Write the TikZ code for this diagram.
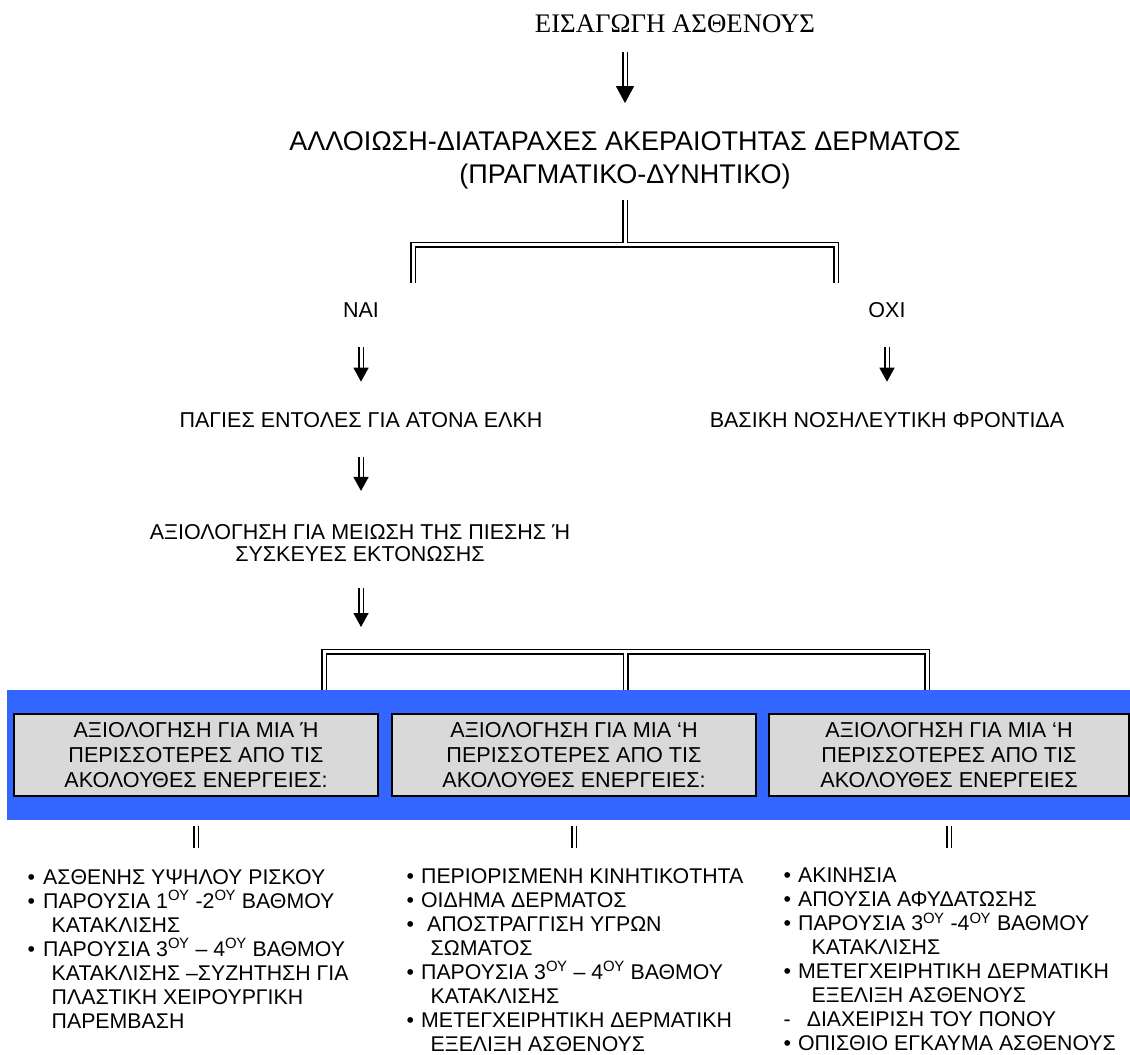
\documentclass[tikz,border=0pt]{standalone}
\usepackage{fontspec}
\setmainfont{Liberation Sans}
\newfontfamily\timesgr{Liberation Serif}
\usetikzlibrary{arrows.meta}

\definecolor{bandblue}{HTML}{3366FF}
\definecolor{boxgray}{HTML}{D9D9D9}

\newcommand{\oy}{\textsuperscript{ΟΥ}}
\newcommand{\listbul}[1][8pt]{\textbullet\hspace{#1}}
\newcommand{\listcont}[1][24pt]{\hspace*{#1}}

\begin{document}
\begin{tikzpicture}[x=1pt, y=-1pt,
        every node/.style={inner sep=0pt},
        dbl/.style={double, double distance=3pt, line width=1.5pt},
        arr/.style={dbl, -{Triangle[width=15pt, length=14pt, sep=5pt]}},
        txt/.style={font=\fontsize{21.5}{22.5}\selectfont, align=center},
        big/.style={font=\fontsize{27}{33}\selectfont, align=center},
        evalbox/.style={txt, font=\fontsize{21.6}{25}\selectfont, draw, line width=2pt,
            fill=boxgray, minimum height=82pt},
        items/.style={font=\fontsize{21.3}{24}\selectfont, align=left, anchor=north west}]
    \useasboundingbox (0, 0) rectangle (1130, 1055);

    % top of the chart
    \node[font=\timesgr\fontsize{26.8}{30}\selectfont] (entry) at (675, 24) {ΕΙΣΑΓΩΓΗ ΑΣΘΕΝΟΥΣ};
    \node[big] (skin) at (625, 160) {ΑΛΛΟΙΩΣΗ-ΔΙΑΤΑΡΑΧΕΣ ΑΚΕΡΑΙΟΤΗΤΑΣ ΔΕΡΜΑΤΟΣ\\(ΠΡΑΓΜΑΤΙΚΟ-ΔΥΝΗΤΙΚΟ)};
    \draw[dbl, -{Triangle[width=18pt, length=17pt]}, shorten <=19pt, shorten >=28pt]
        (skin.north |- entry.south) -- (skin.north);

    % yes / no
    \node[txt] (yes) at (361, 310.5) {ΝΑΙ};
    \node[txt] (no) at (887, 310.5) {ΟΧΙ};
    \coordinate (fork) at (625, 244.5);
    \coordinate (yesleg) at (413, 283);
    \coordinate (noleg) at (836, 283);
    \draw[dbl] (yesleg) |- (fork) -| (noleg);
    \draw[dbl, shorten <=11pt, shorten >=1.5pt] (skin) -- (fork);

    \node[txt] (orders) at (361, 420.5) {ΠΑΓΙΕΣ ΕΝΤΟΛΕΣ ΓΙΑ ΑΤΟΝΑ ΕΛΚΗ};
    \node[txt] (basic) at (887, 420.5) {ΒΑΣΙΚΗ ΝΟΣΗΛΕΥΤΙΚΗ ΦΡΟΝΤΙΔΑ};
    \draw[arr, shorten <=29pt, shorten >=26pt] (yes) -- (orders);
    \draw[arr, shorten <=29pt, shorten >=26pt] (no) -- (basic);

    \node[txt] (assess) at (360, 543) {ΑΞΙΟΛΟΓΗΣΗ ΓΙΑ ΜΕΙΩΣΗ ΤΗΣ ΠΙΕΣΗΣ Ή\\ΣΥΣΚΕΥΕΣ ΕΚΤΟΝΩΣΗΣ};
    \draw[arr, shorten <=29pt, shorten >=28pt] (orders) -- (assess.north -| orders);
    \coordinate (assesstip) at (361, 632);
    \draw[arr, shorten <=26pt] (assess.south -| assesstip) -- (assesstip);

    % blue band with the three boxes
    \fill[bandblue] (7, 690) rectangle (1130, 820);
    \coordinate (bar) at (625.5, 651.5);
    \coordinate (bl) at (324, 690);
    \coordinate (bm) at (625.5, 690);
    \coordinate (br) at (927, 690);
    \draw[dbl] (bl) |- (bar) -| (br);
    \draw[dbl, shorten <=1.5pt] (bar) -- (bm);

    \node[evalbox, minimum width=364pt] (eval1) at (196, 755)
        {ΑΞΙΟΛΟΓΗΣΗ ΓΙΑ ΜΙΑ Ή\\ΠΕΡΙΣΣΟΤΕΡΕΣ ΑΠΟ ΤΙΣ\\ΑΚΟΛΟΥΘΕΣ ΕΝΕΡΓΕΙΕΣ:};
    \node[evalbox, minimum width=364pt] (eval2) at (574, 755)
        {ΑΞΙΟΛΟΓΗΣΗ ΓΙΑ ΜΙΑ ‘Η\\ΠΕΡΙΣΣΟΤΕΡΕΣ ΑΠΟ ΤΙΣ\\ΑΚΟΛΟΥΘΕΣ ΕΝΕΡΓΕΙΕΣ:};
    \node[evalbox, minimum width=360pt] (eval3) at (949, 755)
        {ΑΞΙΟΛΟΓΗΣΗ ΓΙΑ ΜΙΑ ‘Η\\ΠΕΡΙΣΣΟΤΕΡΕΣ ΑΠΟ ΤΙΣ\\ΑΚΟΛΟΥΘΕΣ ΕΝΕΡΓΕΙΕΣ};

    % lists
    \node[items] (list1) at (27.5, 869) {%
        \listbul ΑΣΘΕΝΗΣ ΥΨΗΛΟΥ ΡΙΣΚΟΥ\\
        \listbul ΠΑΡΟΥΣΙΑ 1\oy{} -2\oy{} ΒΑΘΜΟΥ\\
        \listcont ΚΑΤΑΚΛΙΣΗΣ\\
        \listbul ΠΑΡΟΥΣΙΑ 3\oy{} – 4\oy{} ΒΑΘΜΟΥ\\
        \listcont ΚΑΤΑΚΛΙΣΗΣ –ΣΥΖΗΤΗΣΗ ΓΙΑ\\
        \listcont ΠΛΑΣΤΙΚΗ ΧΕΙΡΟΥΡΓΙΚΗ\\
        \listcont ΠΑΡΕΜΒΑΣΗ};
    \node[items] (list2) at (406.5, 868) {%
        \listbul[7pt]ΠΕΡΙΟΡΙΣΜΕΝΗ ΚΙΝΗΤΙΚΟΤΗΤΑ\\
        \listbul[7pt]ΟΙΔΗΜΑ ΔΕΡΜΑΤΟΣ\\
        \listbul[13pt]ΑΠΟΣΤΡΑΓΓΙΣΗ ΥΓΡΩΝ\\
        \listcont ΣΩΜΑΤΟΣ\\
        \listbul[7pt]ΠΑΡΟΥΣΙΑ 3\oy{} – 4\oy{} ΒΑΘΜΟΥ\\
        \listcont ΚΑΤΑΚΛΙΣΗΣ\\
        \listbul[7pt]ΜΕΤΕΓΧΕΙΡΗΤΙΚΗ ΔΕΡΜΑΤΙΚΗ\\
        \listcont ΕΞΕΛΙΞΗ ΑΣΘΕΝΟΥΣ};
    \node[items] (list3) at (783.5, 868) {%
        \listbul[7pt]ΑΚΙΝΗΣΙΑ\\
        \listbul[7pt]ΑΠΟΥΣΙΑ ΑΦΥΔΑΤΩΣΗΣ\\
        \listbul[7pt]ΠΑΡΟΥΣΙΑ 3\oy{} -4\oy{} ΒΑΘΜΟΥ\\
        \listcont[28pt]ΚΑΤΑΚΛΙΣΗΣ\\
        \listbul[7pt]ΜΕΤΕΓΧΕΙΡΗΤΙΚΗ ΔΕΡΜΑΤΙΚΗ\\
        \listcont[28pt]ΕΞΕΛΙΞΗ ΑΣΘΕΝΟΥΣ\\
        -\hspace{16pt}ΔΙΑΧΕΙΡΙΣΗ ΤΟΥ ΠΟΝΟΥ\\
        \listbul[7pt]ΟΠΙΣΘΙΟ ΕΓΚΑΥΜΑ ΑΣΘΕΝΟΥΣ};

    \draw[dbl, shorten <=29pt, shorten >=21pt] (eval1.south) -- (eval1.south |- list1.north);
    \draw[dbl, shorten <=29pt, shorten >=20pt] (eval2.south) -- (eval2.south |- list2.north);
    \draw[dbl, shorten <=29pt, shorten >=20pt] (eval3.south) -- (eval3.south |- list3.north);
\end{tikzpicture}
\end{document}
